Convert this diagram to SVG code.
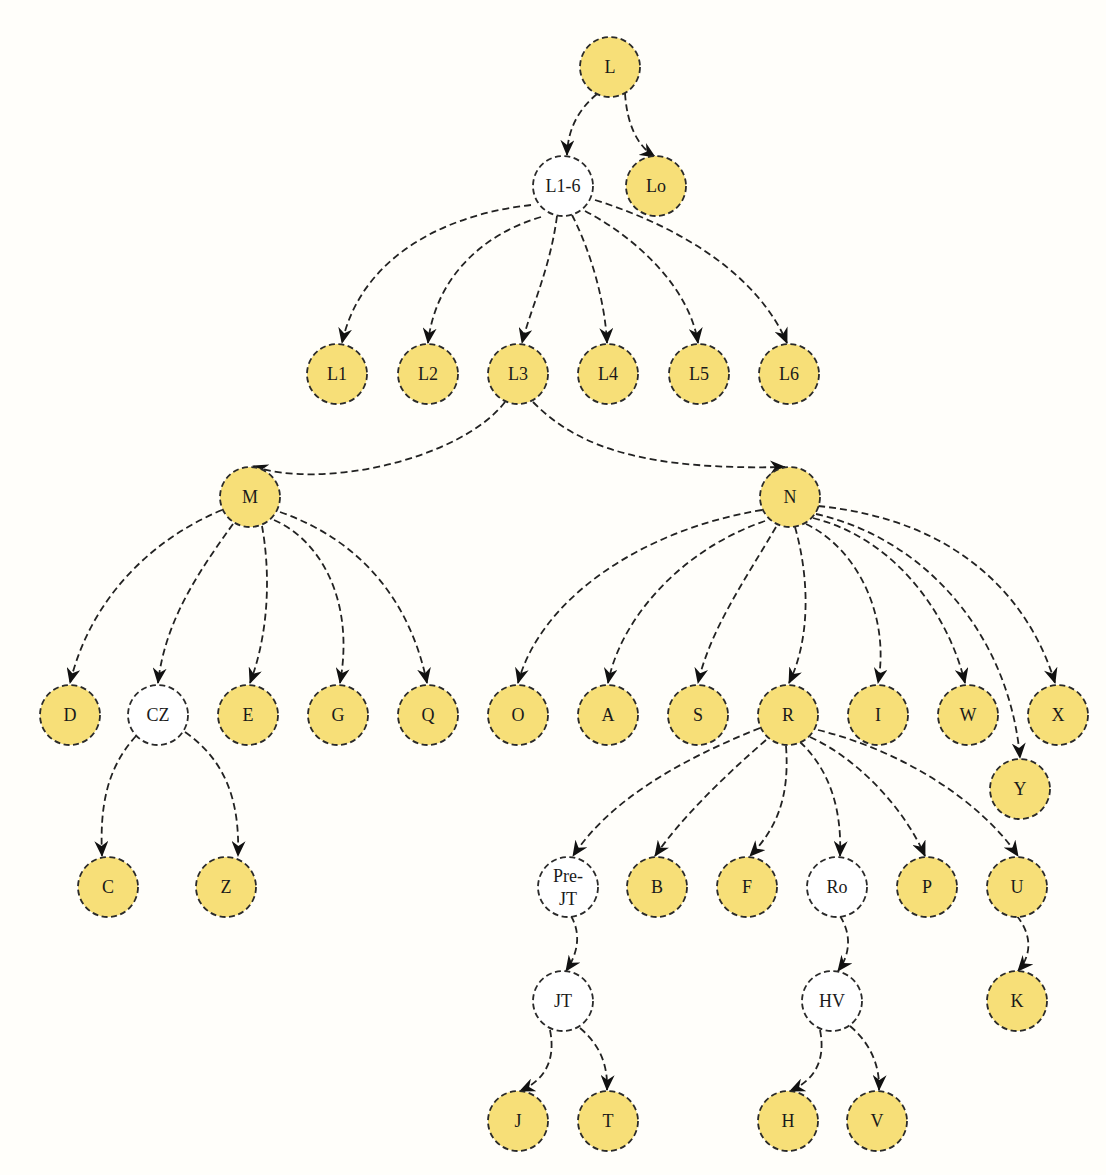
<svg xmlns="http://www.w3.org/2000/svg" width="1106" height="1175" viewBox="0 0 1106 1175">
<defs>
<style>
.n circle{stroke:#2a2a2a;stroke-width:1.8;stroke-dasharray:6 3.5}
.y circle{fill:#F7DF78}
.w circle{fill:#FFFFFF}
.n text{font-family:"Liberation Serif","DejaVu Serif",serif;font-size:18px;fill:#1a1a1a;text-anchor:middle;dominant-baseline:central}
#edges path{fill:none;stroke:#222;stroke-width:1.8;stroke-dasharray:7 4;marker-end:url(#ah)}
</style>
<marker id="ah" markerUnits="userSpaceOnUse" viewBox="0 0 16 14" markerWidth="16" markerHeight="14" refX="15" refY="7" orient="auto">
<path d="M0,0 L16,7 L0,14 L5,7 Z" fill="#111"/>
</marker>
</defs>
<rect width="1106" height="1175" fill="#FFFEFA"/>
<g id="edges">
<path d="M597 94 Q568 118 567 155"/>
<path d="M625 93 Q628 140 655 157"/>
<path d="M531 205 C440 215 360 260 342 343"/>
<path d="M541 217 C480 235 435 280 428 343"/>
<path d="M557 216 C550 270 530 310 522 343"/>
<path d="M572 215 C590 250 605 300 607 343"/>
<path d="M585 211 C640 240 690 290 698 343"/>
<path d="M595 200 C690 230 760 280 787 343"/>
<path d="M505 402 C460 460 320 490 253 466"/>
<path d="M533 402 C580 450 650 470 785 467"/>
<path d="M222 510 C150 540 90 600 70 683"/>
<path d="M233 524 C200 570 165 620 158 683"/>
<path d="M262 526 C270 570 270 630 250 683"/>
<path d="M274 520 C320 540 355 600 340 683"/>
<path d="M280 512 C360 540 410 600 427 683"/>
<path d="M762 510 C640 530 540 600 518 683"/>
<path d="M765 521 C680 550 620 620 608 683"/>
<path d="M776 527 C745 580 710 630 698 683"/>
<path d="M795 527 C810 580 810 640 789 683"/>
<path d="M806 524 C860 550 890 620 878 683"/>
<path d="M813 518 C900 540 950 620 965 683"/>
<path d="M816 514 C930 540 1010 640 1020 758"/>
<path d="M818 506 C960 520 1030 600 1055 683"/>
<path d="M136 736 C105 770 100 810 102 856"/>
<path d="M185 732 C225 760 240 800 238 856"/>
<path d="M760 728 C680 760 610 800 573 856"/>
<path d="M766 740 C720 780 680 820 655 856"/>
<path d="M786 746 C790 800 775 830 750 856"/>
<path d="M800 742 C830 770 842 810 840 856"/>
<path d="M810 737 C860 760 905 810 925 856"/>
<path d="M818 730 C900 750 980 800 1018 856"/>
<path d="M571 916 C582 935 577 955 566 971"/>
<path d="M840 916 C852 935 850 955 838 971"/>
<path d="M1017 916 C1032 935 1032 955 1018 971"/>
<path d="M550 1030 C556 1060 545 1080 520 1091"/>
<path d="M580 1028 C600 1045 608 1065 607 1090"/>
<path d="M820 1030 C826 1060 815 1080 790 1091"/>
<path d="M850 1026 C870 1043 880 1065 879 1090"/>
</g>
<g id="L" class="n y"><circle cx="610" cy="67" r="30"/><text x="610" y="67">L</text></g>
<g id="L1-6" class="n w"><circle cx="563" cy="186" r="30"/><text x="563" y="186">L1-6</text></g>
<g id="Lo" class="n y"><circle cx="656" cy="186" r="30"/><text x="656" y="186">Lo</text></g>
<g id="L1" class="n y"><circle cx="337" cy="374" r="30"/><text x="337" y="374">L1</text></g>
<g id="L2" class="n y"><circle cx="428" cy="374" r="30"/><text x="428" y="374">L2</text></g>
<g id="L3" class="n y"><circle cx="518" cy="374" r="30"/><text x="518" y="374">L3</text></g>
<g id="L4" class="n y"><circle cx="608" cy="374" r="30"/><text x="608" y="374">L4</text></g>
<g id="L5" class="n y"><circle cx="699" cy="374" r="30"/><text x="699" y="374">L5</text></g>
<g id="L6" class="n y"><circle cx="789" cy="374" r="30"/><text x="789" y="374">L6</text></g>
<g id="M" class="n y"><circle cx="250" cy="497" r="30"/><text x="250" y="497">M</text></g>
<g id="N" class="n y"><circle cx="790" cy="497" r="30"/><text x="790" y="497">N</text></g>
<g id="D" class="n y"><circle cx="70" cy="715" r="30"/><text x="70" y="715">D</text></g>
<g id="CZ" class="n w"><circle cx="158" cy="715" r="30"/><text x="158" y="715">CZ</text></g>
<g id="E" class="n y"><circle cx="248" cy="715" r="30"/><text x="248" y="715">E</text></g>
<g id="G" class="n y"><circle cx="338" cy="715" r="30"/><text x="338" y="715">G</text></g>
<g id="Q" class="n y"><circle cx="428" cy="715" r="30"/><text x="428" y="715">Q</text></g>
<g id="O" class="n y"><circle cx="518" cy="715" r="30"/><text x="518" y="715">O</text></g>
<g id="A" class="n y"><circle cx="608" cy="715" r="30"/><text x="608" y="715">A</text></g>
<g id="S" class="n y"><circle cx="698" cy="715" r="30"/><text x="698" y="715">S</text></g>
<g id="R" class="n y"><circle cx="788" cy="715" r="30"/><text x="788" y="715">R</text></g>
<g id="I" class="n y"><circle cx="878" cy="715" r="30"/><text x="878" y="715">I</text></g>
<g id="W" class="n y"><circle cx="968" cy="715" r="30"/><text x="968" y="715">W</text></g>
<g id="X" class="n y"><circle cx="1058" cy="715" r="30"/><text x="1058" y="715">X</text></g>
<g id="Y" class="n y"><circle cx="1020" cy="789" r="30"/><text x="1020" y="789">Y</text></g>
<g id="C" class="n y"><circle cx="108" cy="887" r="30"/><text x="108" y="887">C</text></g>
<g id="Z" class="n y"><circle cx="226" cy="887" r="30"/><text x="226" y="887">Z</text></g>
<g id="Pre-JT" class="n w"><circle cx="568" cy="887" r="30"/><text x="568" y="876">Pre-</text><text x="568" y="899">JT</text></g>
<g id="B" class="n y"><circle cx="657" cy="887" r="30"/><text x="657" y="887">B</text></g>
<g id="F" class="n y"><circle cx="747" cy="887" r="30"/><text x="747" y="887">F</text></g>
<g id="Ro" class="n w"><circle cx="837" cy="887" r="30"/><text x="837" y="887">Ro</text></g>
<g id="P" class="n y"><circle cx="927" cy="887" r="30"/><text x="927" y="887">P</text></g>
<g id="U" class="n y"><circle cx="1017" cy="887" r="30"/><text x="1017" y="887">U</text></g>
<g id="JT" class="n w"><circle cx="563" cy="1001" r="30"/><text x="563" y="1001">JT</text></g>
<g id="HV" class="n w"><circle cx="832" cy="1001" r="30"/><text x="832" y="1001">HV</text></g>
<g id="K" class="n y"><circle cx="1017" cy="1001" r="30"/><text x="1017" y="1001">K</text></g>
<g id="J" class="n y"><circle cx="518" cy="1121" r="30"/><text x="518" y="1121">J</text></g>
<g id="T" class="n y"><circle cx="608" cy="1121" r="30"/><text x="608" y="1121">T</text></g>
<g id="H" class="n y"><circle cx="788" cy="1121" r="30"/><text x="788" y="1121">H</text></g>
<g id="V" class="n y"><circle cx="877" cy="1121" r="30"/><text x="877" y="1121">V</text></g>
</svg>
